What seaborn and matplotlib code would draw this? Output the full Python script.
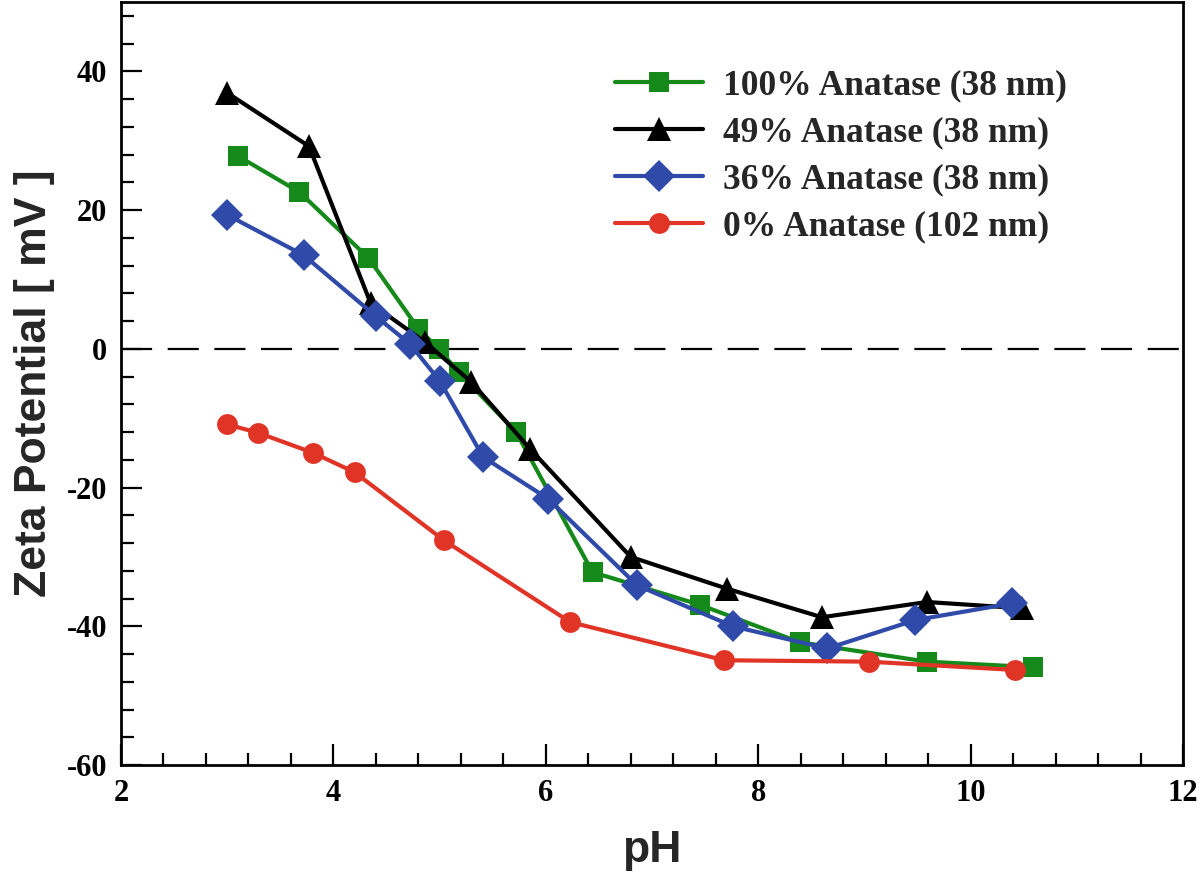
import numpy as np
import pandas as pd
import matplotlib
matplotlib.use("Agg")
import matplotlib.pyplot as plt
from matplotlib.ticker import MultipleLocator
import seaborn as sns

# ---- data ----
labels = ["100% Anatase (38 nm)", "49% Anatase (38 nm)",
          "36% Anatase (38 nm)", "0% Anatase (102 nm)"]

ph_100 = [3.10, 3.68, 4.33, 4.80, 4.99, 5.18, 5.72, 6.44, 7.45, 8.39, 9.59, 10.59]
zp_100 = [27.8, 22.6, 13.1, 2.9, 0.0, -3.4, -12.0, -32.2, -36.9, -42.3, -45.1, -45.9]

ph_49 = [3.00, 3.77, 4.35, 4.86, 5.30, 5.85, 6.80, 7.71, 8.60, 9.59, 10.48]
zp_49 = [36.9, 29.2, 6.6, 1.0, -4.8, -14.4, -30.0, -34.6, -38.7, -36.5, -37.4]

ph_36 = [3.00, 3.72, 4.40, 4.72, 5.00, 5.41, 6.02, 6.86, 7.76, 8.65, 9.48, 10.39]
zp_36 = [19.3, 13.5, 4.7, 0.7, -4.6, -15.6, -21.6, -34.1, -40.0, -43.2, -39.1, -36.7]

ph_0 = [3.00, 3.29, 3.81, 4.20, 5.04, 6.23, 7.68, 9.04, 10.42]
zp_0 = [-10.9, -12.1, -15.0, -17.8, -27.6, -39.4, -44.9, -45.1, -46.3]

x_ticks = [2, 4, 6, 8, 10, 12]
y_ticks = [-60, -40, -20, 0, 20, 40]

colors = ["#15891a", "#000000", "#2f4aa8", "#e03427"]
markers = ["s", "^", "D", "o"]
msizes = [15, 17, 16, 15]

rows = []
for lab, xs, ys in zip(labels, [ph_100, ph_49, ph_36, ph_0], [zp_100, zp_49, zp_36, zp_0]):
    for i, (a, b) in enumerate(zip(xs, ys)):
        rows.append({"series": lab, "pH": a, "zeta": b, "order": i})
df = pd.DataFrame(rows)

sns.set_theme(style="ticks")
plt.rcParams["font.family"] = ["Liberation Serif", "DejaVu Serif"]
plt.rcParams["axes.unicode_minus"] = False

fig = plt.figure(figsize=(12, 8.77), dpi=100)
ax = fig.add_axes([121/1200, 1-765/877, (1183-121)/1200, (765-2)/877])

ax.axhline(0, color="black", lw=1.6, dashes=(14, 7), zorder=1)

for lab, c, m, ms in zip(labels, colors, markers, msizes):
    sub = df[df["series"] == lab]
    sns.lineplot(data=sub, x="pH", y="zeta", sort=False, estimator=None, ax=ax,
                 color=c, marker=m, markersize=ms, markeredgewidth=0,
                 linewidth=3, label=lab, zorder=3)

ax.set_xlim(2, 12)
ax.set_ylim(-60, 50)
ax.set_xticks(x_ticks)
ax.set_yticks(y_ticks)
ax.xaxis.set_minor_locator(MultipleLocator(0.4))
ax.yaxis.set_minor_locator(MultipleLocator(4))
ax.tick_params(which="both", direction="in", top=False, right=False, width=1.6, colors="black")
ax.tick_params(which="major", length=15, labelsize=22, pad=10)
ax.tick_params(which="minor", length=9)
for lab in ax.get_xticklabels() + ax.get_yticklabels():
    lab.set_fontweight("bold")
    lab.set_family(["Liberation Serif"])
for s in ax.spines.values():
    s.set_visible(True)
    s.set_linewidth(2)
    s.set_color("black")

ax.set_xlabel("pH", fontsize=32, fontweight="bold", family=["Liberation Sans"], labelpad=16)
ax.set_ylabel("Zeta Potential [ mV ]", fontsize=32, fontweight="bold", family=["Liberation Sans"], labelpad=8)

leg = ax.legend(loc="upper left", bbox_to_anchor=(0.465, 0.912), frameon=False,
                prop={"family": "Liberation Serif", "weight": "bold", "size": 25.5},
                handlelength=2.5, handletextpad=0.55, labelspacing=0.4,
                borderpad=0, borderaxespad=0)

fig.savefig("out.png", dpi=100)
